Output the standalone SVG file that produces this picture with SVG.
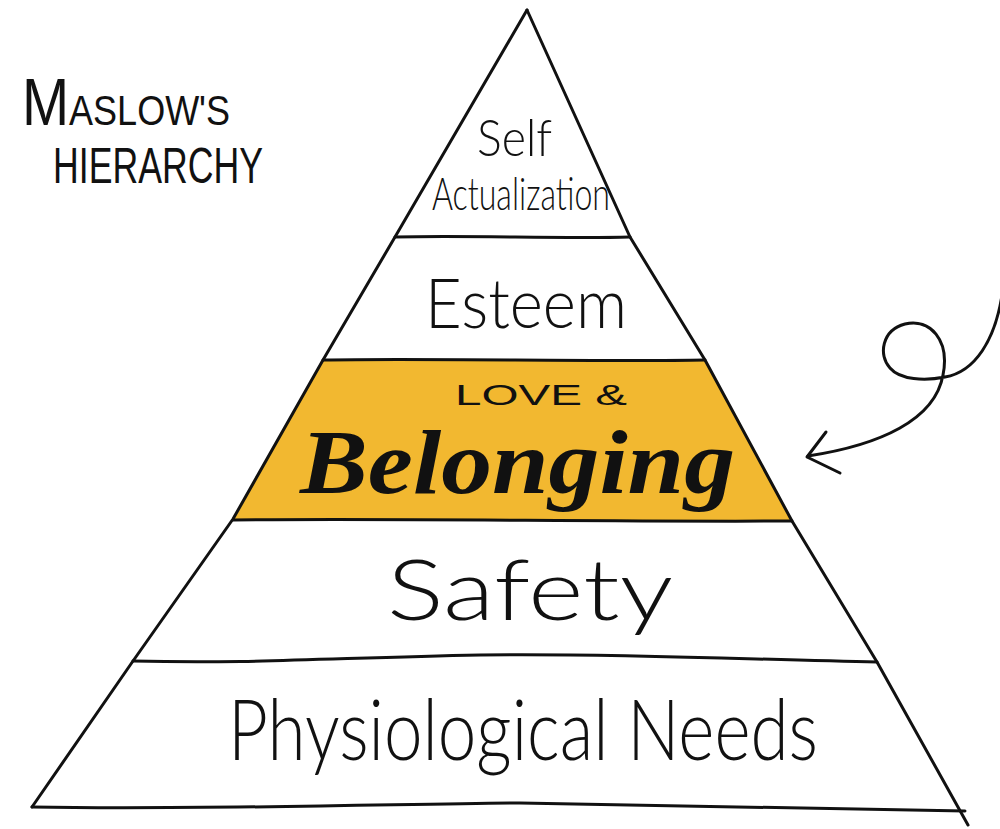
<svg xmlns="http://www.w3.org/2000/svg" width="1000" height="829" viewBox="0 0 1000 829">
  <style>
    .ln { fill: none; stroke: #111; stroke-width: 3; stroke-linecap: round; stroke-linejoin: round; }
    .txt { font-family: "Lato", "Liberation Sans", "DejaVu Sans", sans-serif; font-weight: 300; fill: #111; }
    .title { font-family: "Liberation Sans", "DejaVu Sans", sans-serif; font-weight: normal; fill: #111; }
    .bold { font-family: "Liberation Serif", "DejaVu Serif", serif; font-weight: bold; font-style: italic; fill: #111; }
  </style>
  <rect width="1000" height="829" fill="#ffffff"/>

  <g id="title">
    <text class="title" x="22" y="125" textLength="208" lengthAdjust="spacingAndGlyphs"><tspan font-size="66">M</tspan><tspan font-size="42">ASLOW'S</tspan></text>
    <text class="title" x="53" y="183" font-size="50" textLength="210" lengthAdjust="spacingAndGlyphs">HIERARCHY</text>
  </g>

  <g id="band-belonging">
    <polygon points="323,361 705,361 792,521 233,521" fill="#F2B830"/>
  </g>

  <g id="pyramid-outline">
    <path class="ln" d="M527 10 L395 237 L323 360 L233 519 L133 661 L32 807"/>
    <path class="ln" d="M527 10 L630 237 L705 360 L792 521 L877 662 L968 825"/>
    <path class="ln" d="M395 237 C470 235 560 239 630 237"/>
    <path class="ln" d="M323 360 C430 358 600 362 705 360"/>
    <path class="ln" d="M233 520 C400 518 600 522 792 521"/>
    <path class="ln" d="M133 661 C250 664 330 658 480 655 C620 653 760 660 877 662"/>
    <path class="ln" d="M32 807 C200 810 400 804 520 803 C700 805 850 810 965 811"/>
  </g>

  <g id="node-self-actualization">
    <text class="txt" x="477" y="156" font-size="52" textLength="75" lengthAdjust="spacingAndGlyphs">Self</text>
    <text class="txt" x="432" y="210" font-size="46" textLength="178" lengthAdjust="spacingAndGlyphs">Actualization</text>
  </g>

  <g id="node-esteem">
    <text class="txt" x="425" y="328" font-size="68" textLength="202" lengthAdjust="spacingAndGlyphs">Esteem</text>
  </g>

  <g id="node-love-belonging">
    <text class="title" x="455" y="405" font-size="30" textLength="172" lengthAdjust="spacingAndGlyphs">LOVE &amp;</text>
    <text class="bold" x="300" y="493" font-size="92" textLength="435" lengthAdjust="spacingAndGlyphs">Belonging</text>
  </g>

  <g id="node-safety">
    <text class="txt" x="387" y="620" font-size="84" textLength="286" lengthAdjust="spacingAndGlyphs">Safety</text>
  </g>

  <g id="node-physiological">
    <text class="txt" x="228" y="760" font-size="84" textLength="590" lengthAdjust="spacingAndGlyphs">Physiological Needs</text>
  </g>

  <g id="connectors">
    <path class="ln" d="M1002 295 C995 340 975 372 945 377 C925 381 900 380 890 368 C878 355 882 330 905 324 C930 318 950 340 943 375 C935 420 880 445 808 456"/>
    <path class="ln" stroke-width="4" d="M826 432 L807 457 L840 473"/>
  </g>
</svg>
